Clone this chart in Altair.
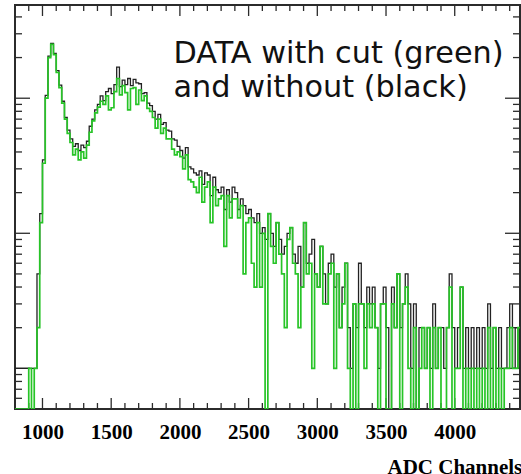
import altair as alt
import pandas as pd

# Histogram binning (ADC channels)
BIN_START = 800
BIN_WIDTH = 20
X_DOMAIN = [800, 4475]
Y_DOMAIN = [0.5, 490]

# Counts per 20-channel bin, starting at channel 800 (without cut)
counts_all = [
    1, 1, 1, 1, 1, 1, 1, 1, 5, 14,
    35, 105, 205, 255, 215, 160, 125, 95, 72, 58,
    50, 44, 46, 41, 45, 43, 48, 62, 70, 82,
    90, 104, 96, 112, 118, 108, 126, 170, 122, 136,
    126, 140, 124, 138, 130, 128, 108, 110, 92, 88,
    80, 70, 76, 64, 66, 58, 57, 50, 49, 44,
    41, 36, 43, 31, 30, 28, 27, 29, 23, 28,
    27, 19, 26, 21, 20, 22, 15, 21, 17, 22,
    20, 15, 18, 16, 14, 15, 13, 12, 14, 10,
    11, 9, 14, 10, 8, 12, 9, 7, 8, 10,
    11, 7, 6, 8, 4, 12, 6, 7, 9, 5,
    4, 8, 5, 3, 6, 7, 4, 5, 2, 4,
    6, 2, 1, 3, 2, 6, 3, 2, 4, 3,
    4, 2, 1, 3, 4, 2, 0, 4, 2, 5,
    2, 3, 5, 3, 1, 3, 0, 2, 2, 1,
    2, 1, 3, 1, 2, 2, 1, 2, 5, 2,
    1, 2, 4, 1, 2, 1, 2, 1, 2, 1,
    2, 1, 3, 1, 2, 1, 2, 1, 1, 2,
    3, 1, 2, 1,
]

# Counts per bin with the cut applied
counts_cut = [
    0, 0, 0, 0, 0, 1, 0, 1, 2, 12,
    33, 100, 200, 250, 210, 155, 120, 92, 70, 55,
    47, 38, 42, 35, 40, 36, 45, 56, 68, 78,
    86, 95, 90, 104, 82, 85, 112, 140, 106, 124,
    110, 82, 118, 120, 90, 115, 96, 104, 84, 80,
    72, 60, 70, 55, 60, 50, 50, 42, 38, 40,
    37, 30, 38, 25, 24, 22, 20, 26, 17, 22,
    24, 12, 22, 16, 18, 19, 8, 19, 13, 18,
    18, 13, 16, 5, 12, 13, 6, 4, 12, 4,
    10, 0, 14, 8, 6, 12, 7, 5, 2, 9,
    11, 6, 5, 2, 4, 12, 5, 6, 1, 5,
    4, 8, 3, 3, 5, 6, 1, 5, 2, 3,
    6, 1, 0, 3, 0, 3, 3, 1, 3, 2,
    3, 2, 0, 3, 3, 0, 0, 3, 2, 5,
    0, 3, 4, 1, 0, 2, 0, 1, 2, 1,
    2, 0, 2, 1, 2, 0, 0, 2, 4, 0,
    1, 1, 4, 0, 1, 0, 1, 0, 1, 0,
    1, 0, 2, 0, 2, 0, 1, 0, 1, 1,
    2, 1, 1, 2,
]

x_label_values = [1000, 1500, 2000, 2500, 3000, 3500, 4000]
x_minor_ticks = [c for c in range(900, 4475, 100) if c % 500]
y_major_ticks = [1, 10, 100]
y_minor_ticks = [0.6, 0.7, 0.8, 0.9, 2, 3, 4, 5, 6, 7, 8, 9,
                 20, 30, 40, 50, 60, 70, 80, 90, 200, 300, 400]

legend_lines = ["DATA with cut (green)", "and without (black)"]

W, H = 505, 404
FRAME = "#2b2b2b"


def step_table(counts):
    edges = [BIN_START + i * BIN_WIDTH for i in range(len(counts) + 1)]
    return pd.DataFrame({"ch": edges, "n": list(counts) + [counts[-1]]})


xscale = alt.Scale(domain=X_DOMAIN, nice=False, zero=False)
yscale = alt.Scale(type="log", domain=Y_DOMAIN, nice=False)

x_axis = alt.Axis(
    values=x_label_values, format="d", ticks=False, domain=False, grid=False,
    labelFont="Liberation Serif", labelFontWeight="bold", labelFontSize=21,
    labelColor="black", labelBaseline="alphabetic", labelPadding=29,
    title="ADC Channels", titleFont="Liberation Serif", titleFontWeight="bold",
    titleFontSize=21, titleColor="black", titleAlign="left",
    titleBaseline="alphabetic", titleX=372, titleY=64,
)


def xenc():
    return alt.X("ch:Q", scale=xscale, axis=x_axis)


def yenc(field):
    return alt.Y(f"{field}:Q", scale=yscale, axis=None)


def hist_layer(counts, color, width):
    return (
        alt.Chart(step_table(counts))
        .transform_calculate(shown=f"max(datum.n, {Y_DOMAIN[0]})")
        .mark_line(interpolate="step-after", color=color, strokeWidth=width, clip=True)
        .encode(x=xenc(), y=yenc("shown"))
    )


black = hist_layer(counts_all, "#222222", 1.3)
green = hist_layer(counts_cut, "#27c427", 1.7)

# ROOT-style inward ticks on all four sides of the frame
xmaj = pd.DataFrame({"ch": x_label_values})
xmin = pd.DataFrame({"ch": x_minor_ticks})
ymaj = pd.DataFrame({"v": y_major_ticks})
ymin = pd.DataFrame({"v": y_minor_ticks})


def xticks(df, length):
    bottom = alt.Chart(df).mark_rule(color=FRAME, strokeWidth=1.3).encode(
        x=xenc(), y=alt.value(H), y2=alt.value(H - length))
    top = alt.Chart(df).mark_rule(color=FRAME, strokeWidth=1.3).encode(
        x=xenc(), y=alt.value(0), y2=alt.value(length))
    return bottom + top


def yticks(df, length):
    left = alt.Chart(df).mark_rule(color=FRAME, strokeWidth=1.3).encode(
        y=yenc("v"), x=alt.value(0), x2=alt.value(length))
    right = alt.Chart(df).mark_rule(color=FRAME, strokeWidth=1.3).encode(
        y=yenc("v"), x=alt.value(W), x2=alt.value(W - length))
    return left + right


note = alt.Chart(pd.DataFrame({"t": ["\n".join(legend_lines)]})).mark_text(
    align="left", baseline="alphabetic", font="DejaVu Sans", fontSize=30.3,
    lineHeight=34, lineBreak="\n", color="#111111",
).encode(x=alt.value(158.5), y=alt.value(58), text="t:N")

chart = (
    alt.layer(
        xticks(xmaj, 11), xticks(xmin, 6), yticks(ymaj, 15), yticks(ymin, 7),
        black, green, note,
    )
    .properties(
        width=W, height=H,
        autosize=alt.AutoSizeParams(type="none"),
        padding={"left": 15, "top": 5, "right": 1, "bottom": 65},
        background="white",
    )
    .configure_view(stroke=FRAME, strokeWidth=2)
)

chart.save("out.html", embed_options={"renderer": "svg", "actions": False})
